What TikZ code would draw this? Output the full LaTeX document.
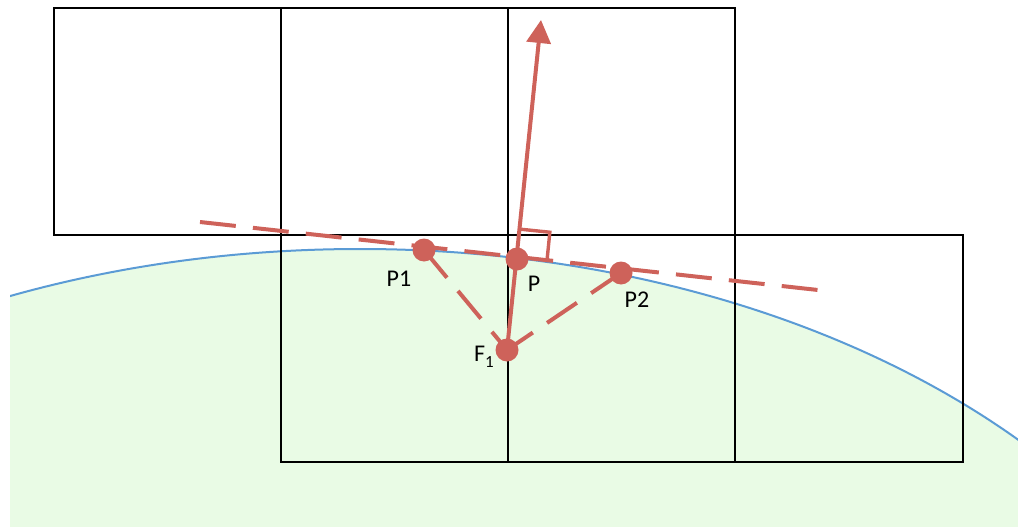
\documentclass[tikz,border=0pt]{standalone}
\usepackage{fontspec}
\setmainfont{Carlito}
\usetikzlibrary{arrows.meta,calc}
\definecolor{redc}{RGB}{206,98,90}
\definecolor{bluec}{RGB}{91,155,213}
\definecolor{greenc}{RGB}{233,251,229}
\begin{document}
\begin{tikzpicture}[x=1pt,y=-1pt,
  box/.style={draw=black,line width=2.8pt},
  dot/.style={circle,fill=redc,inner sep=0pt,minimum size=23pt},
  redline/.style={draw=redc,line width=4pt},
  reddash/.style={redline,dash pattern=on 36pt off 17.2pt},
  lbl/.style={font=\fontsize{24}{24}\selectfont,text=black,inner sep=0pt}]
\useasboundingbox (0,0) rectangle (1018,527);
% green region and its boundary
\begin{scope}
  \clip (10,0) rectangle (1018,527);
  \fill[greenc] (360,849) ellipse [x radius=900, y radius=600];
  \draw[bluec,line width=2pt] (360,849) ellipse [x radius=900, y radius=600];
\end{scope}
% grid of boxes
\draw[box] (54,8) rectangle (281,235);
\draw[box] (281,8) rectangle (508,235);
\draw[box] (508,8) rectangle (735,235);
\draw[box] (281,235) rectangle (508,462);
\draw[box] (508,235) rectangle (735,462);
\draw[box] (735,235) rectangle (963,462);
% points
\coordinate (T1) at (200,222);
\coordinate (T2) at (818,290);
\coordinate (tip) at (541,20);
\coordinate (Pc) at (517,259);
\node[dot] (P1) at (424,250) {};
\node[dot] (P) at (Pc) {};
\node[dot] (P2) at (621,273) {};
\node[dot] (F1) at (507,350) {};
% tangent
\draw[reddash] (T1) -- (T2);
% dashed lines to focus
\draw[reddash] (P1.center) -- (F1.center);
\draw[reddash] (P2.center) -- (F1.center);
% normal arrow
\draw[redline,-{Triangle[width=24pt,length=23pt]}] (F1.center) -- (tip);
% right-angle marker
\coordinate (ra) at ($(Pc)!30pt!(tip)$);
\coordinate (rb) at ($(Pc)!30pt!(T2)$);
\draw[redc,line width=3.4pt] (ra) -- ($(ra)+(rb)-(Pc)$) -- (rb);
% labels
\node[lbl] (l1) at (399,279) {P1};
\node[lbl] (l2) at (534,284) {P};
\node[lbl] (l3) at (637,300) {P2};
\node[lbl] (l4) at (484,357) {F\raisebox{-6pt}{\fontsize{17}{17}\selectfont 1}};
\end{tikzpicture}
\end{document}
